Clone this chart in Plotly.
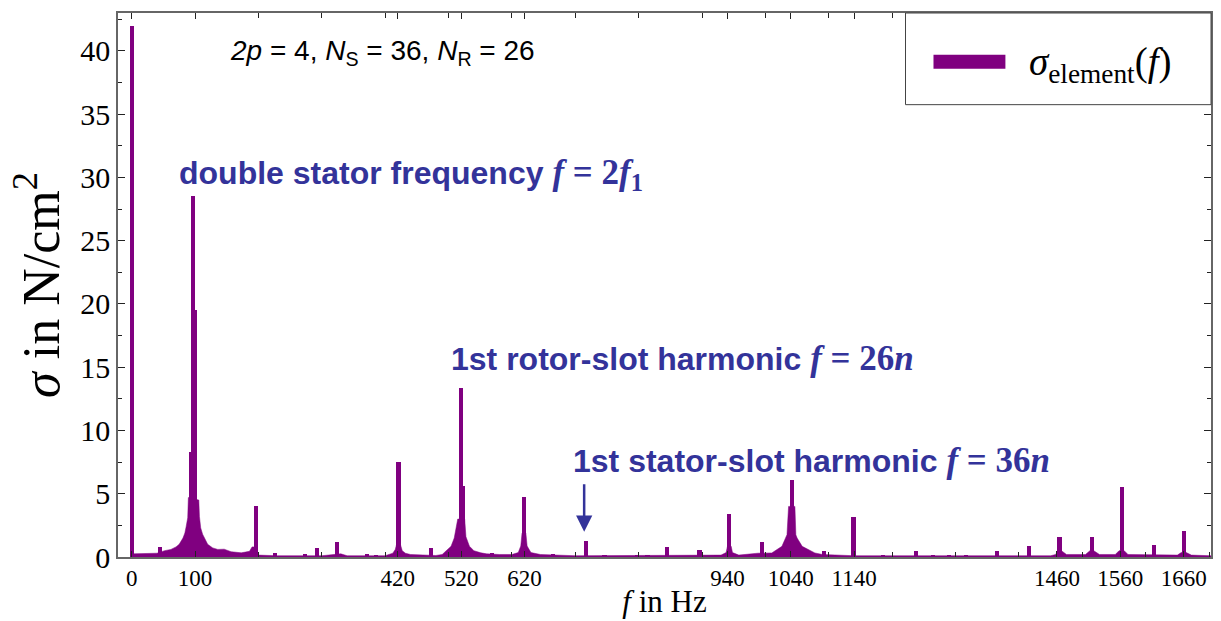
import plotly.graph_objects as go

# ---------------- data ----------------
# narrow spectral lines
spike_freq_hz = [0, 45, 94.5, 97, 100.5, 196, 226, 274, 293, 324, 372, 386, 421, 473,
                 520, 523, 569, 619, 665, 717, 746, 797, 814, 845, 896, 943, 994, 1042.5,
                 1093, 1139, 1185, 1237, 1264, 1289, 1316, 1366, 1416, 1464, 1515, 1562,
                 1613, 1660]
spike_sigma = [42.0, 0.8, 8.3, 28.5, 19.5, 4.0, 0.3, 0.2, 0.7, 1.15, 0.25, 0.15, 7.5, 0.7,
               13.35, 5.6, 0.35, 4.75, 0.25, 1.23, 0.17, 0.15, 0.15, 0.8, 0.52, 3.39, 1.15, 6.09,
               0.5, 3.2, 0.12, 0.47, 0.1, 0.1, 0.12, 0.5, 0.9, 1.55, 1.55, 5.55,
               0.97, 2.02]

# broadband floor / skirts around the lines
floor_freq_hz = [3, 40, 52, 62, 70, 75, 81, 84, 86, 88.5, 89.5, 106, 107, 109, 112, 116, 120,
                 128, 136, 146, 157, 173, 186, 190, 194, 200,
                 230, 300, 330, 340, 400, 412, 416, 418, 424, 427, 432, 440, 480, 490, 496,
                 504, 509, 512.5, 514.5, 525.5, 527.5, 533, 540, 551, 560, 580,
                 600, 610, 614, 616, 622, 624, 630, 645, 700, 930, 938, 940, 946, 948, 958,
                 988, 1000, 1010, 1026, 1034, 1036.5, 1046.5, 1048, 1050, 1058, 1078, 1090,
                 1140, 1450, 1458, 1461, 1467, 1475, 1505, 1512, 1518, 1527, 1552, 1558, 1566,
                 1572, 1650, 1656, 1664, 1672, 1703]
floor_sigma = [0.25, 0.3, 0.5, 0.6, 0.8, 1.0, 1.5, 1.9, 2.4, 3.1, 4.7, 4.5, 3.2, 2.3, 1.8, 1.4, 1.0,
               0.72, 0.6, 0.62, 0.42, 0.33, 0.45, 0.8, 0.8, 0.15,
               0.1, 0.1, 0.25, 0.1, 0.1, 0.3, 0.6, 1.0, 1.0, 0.5, 0.3, 0.2, 0.12, 0.2, 0.45,
               0.85, 1.5, 2.3, 3.0, 3.0, 1.6, 0.85, 0.5, 0.33, 0.25, 0.2,
               0.2, 0.35, 0.87, 1.9, 1.9, 0.87, 0.35, 0.2, 0.1, 0.15, 0.35, 0.84, 0.84, 0.35, 0.15,
               0.3, 0.3, 0.32, 0.84, 1.76, 4.0, 4.0, 1.76, 1.5, 0.84, 0.32, 0.2,
               0.1, 0.1, 0.2, 0.5, 0.5, 0.2, 0.2, 0.5, 0.5, 0.2, 0.2, 0.5, 0.5,
               0.2, 0.15, 0.35, 0.35, 0.15, 0.1]

x_tick_hz = [0, 100, 420, 520, 620, 940, 1040, 1140, 1460, 1560, 1660]
y_tick_vals = [0, 5, 10, 15, 20, 25, 30, 35, 40]

assert len(spike_freq_hz) == len(spike_sigma)
assert len(floor_freq_hz) == len(floor_sigma)

# ---------------- styling ----------------
PURPLE = "#800080"
BLUE = "#33339a"
SERIF = "Liberation Serif, Times New Roman, serif"
SANS = "Liberation Sans, Arial, Helvetica, sans-serif"
FRAME = "#666666"

fig = go.Figure()
fig.add_trace(go.Scatter(x=floor_freq_hz, y=floor_sigma, mode="lines", fill="tozeroy",
                         line=dict(color=PURPLE, width=0.5), fillcolor=PURPLE,
                         showlegend=False, hoverinfo="skip"))
fig.add_trace(go.Bar(x=spike_freq_hz, y=spike_sigma, width=6.5,
                     marker=dict(color=PURPLE, line=dict(width=0)),
                     name="σ_element(f)", showlegend=False))

fig.update_layout(
    width=1221, height=621, autosize=False,
    margin=dict(l=118, r=8, t=13, b=62),
    paper_bgcolor="white", plot_bgcolor="white",
    bargap=0, showlegend=False,
    font=dict(family=SERIF, color="black"),
)

fig.update_xaxes(
    range=[-21.5, 1703], tickmode="array", tickvals=x_tick_hz,
    ticktext=[str(v) for v in x_tick_hz],
    ticks="inside", ticklen=6, tickcolor="#222", tickwidth=1,
    showline=True, linecolor=FRAME, linewidth=1.5, mirror="ticks",
    showgrid=False, zeroline=False,
    tickfont=dict(family=SERIF, size=23, color="black"),
    title=dict(text="<i>f</i> in Hz", font=dict(family=SERIF, size=31, color="black"), standoff=0),
    minor=dict(tickmode="linear", tick0=0, dtick=100, ticks="inside", ticklen=5,
               tickcolor="#222", showgrid=False),
)
fig.update_yaxes(
    range=[0, 43], tickmode="array", tickvals=y_tick_vals,
    ticks="inside", ticklen=7, tickcolor="#222", tickwidth=1,
    showline=True, linecolor=FRAME, linewidth=1.5, mirror="ticks",
    showgrid=False, zeroline=False,
    tickfont=dict(family=SERIF, size=30, color="black"),
    title=dict(text="<i>σ</i> in N/cm<sup>2</sup>", font=dict(family=SERIF, size=52, color="black"),
               standoff=4),
    minor=dict(tickmode="linear", tick0=0, dtick=2.5, ticks="inside", ticklen=4,
               tickcolor="#222", showgrid=False),
)

serif_span = "<span style='font-family:Liberation Serif, Times New Roman, serif;font-size:35px'>"

annotations = [
    dict(x=151.6, y=39.9, xref="x", yref="y", xanchor="left", yanchor="middle", showarrow=False,
         text="<i>2p</i> = 4, <i>N</i><sub>S</sub> = 36, <i>N</i><sub>R</sub> = 26",
         font=dict(family=SANS, size=28, color="black")),
    dict(x=71.3, y=30.2, xref="x", yref="y", xanchor="left", yanchor="middle", showarrow=False,
         text="<b>double stator frequency</b> " + serif_span + "<b><i>f</i> = 2<i>f</i><sub>1</sub></b></span>",
         font=dict(family=SANS, size=32, color=BLUE)),
    dict(x=501, y=15.7, xref="x", yref="y", xanchor="left", yanchor="middle", showarrow=False,
         text="<b>1st rotor-slot harmonic</b> " + serif_span + "<b><i>f</i> = 26<i>n</i></b></span>",
         font=dict(family=SANS, size=32, color=BLUE)),
    dict(x=693, y=7.6, xref="x", yref="y", xanchor="left", yanchor="middle", showarrow=False,
         text="<b>1st stator-slot harmonic</b> " + serif_span + "<b><i>f</i> = 36<i>n</i></b></span>",
         font=dict(family=SANS, size=32, color=BLUE)),
    dict(x=714, y=2.0, xref="x", yref="y", ax=0, ay=-49, showarrow=True, text="",
         arrowhead=2, arrowsize=1.3, arrowwidth=2.5, arrowcolor=BLUE),
    dict(x=0.832, y=0.905, xref="paper", yref="paper", xanchor="left", yanchor="middle",
         showarrow=False, text="<i>σ</i><sub>element</sub>(<i>f</i>)",
         font=dict(family=SERIF, size=39, color="black")),
]
fig.update_layout(annotations=annotations)

# hand-drawn legend frame and swatch
fig.add_shape(type="rect", xref="paper", yref="paper", x0=0.7205, x1=1.0, y0=0.8315, y1=1.0,
              line=dict(color="#444444", width=1), fillcolor="white", layer="above")
fig.add_shape(type="rect", xref="paper", yref="paper", x0=0.7461, x1=0.8119, y0=0.8974, y1=0.9231,
              line=dict(width=0), fillcolor=PURPLE, layer="above")

fig.write_html("out.html", config={"displayModeBar": False},
               post_script="document.body.style.margin='0';document.body.style.overflow='hidden';")
